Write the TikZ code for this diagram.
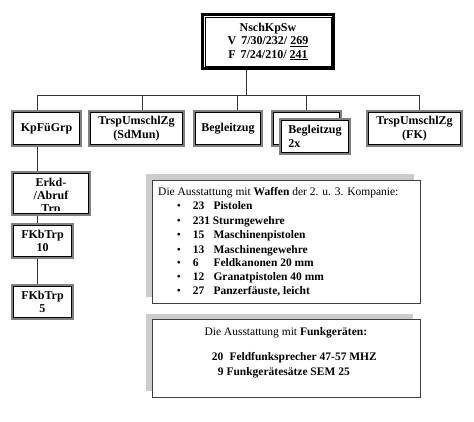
\documentclass[tikz,border=0pt]{standalone}
\usepackage{fontspec}
\setmainfont{Liberation Serif}
\newcommand\innerframe[2]{\draw[innerline] ([shift={(#2,#2)}]#1.north west) rectangle ([shift={(-#2,-#2)}]#1.south east);}
\begin{document}
\begin{tikzpicture}[x=1pt,y=-1pt,
  orgbox/.style={draw=black!50, line width=1.6pt, fill=white, inner sep=0pt,
    font=\fontsize{12}{13.5}\selectfont\bfseries, align=center},
  topbox/.style={draw=black, line width=2.6pt, fill=white, inner sep=0pt,
    font=\fontsize{12}{13.2}\selectfont\bfseries, align=center},
  innerline/.style={draw=black, line width=0.6pt},
  link/.style={draw=black!80, line width=0.6pt},
  listbox/.style={draw=black!75, line width=0.7pt, fill=white, inner sep=0pt, anchor=north west},
  shadowfill/.style={fill=black!20},
  hdr/.style={anchor=base west, inner sep=0pt, font=\fontsize{11.5}{14}\selectfont},
  itemtext/.style={anchor=base west, inner sep=0pt, font=\fontsize{11.5}{14}\selectfont\bfseries},
  bul/.style={anchor=base, inner sep=0pt, font=\fontsize{11.5}{14}\selectfont}
]
\useasboundingbox[fill=white] (0,0) rectangle (474,421);

% connector coordinates
\coordinate (bustop) at (246,95);
\coordinate (busL) at (37.7,95);
\coordinate (bus2) at (142.7,95);
\coordinate (bus3) at (237.5,95);
\coordinate (bus4) at (306.7,95);
\coordinate (busR) at (419,95);

% boxes
\node[topbox, minimum width=131.4, minimum height=54.4] (top) at (268,41.5)
  {NschKpSw\\[0.3pt] V\hspace{5pt}7/30/232/ \underline{269}\\ F\hspace{5pt}7/24/210/ \underline{241}};
\node[orgbox, minimum width=69.4, minimum height=35.4] (kp) at (46.5,128.5) {KpFüGrp};
\node[orgbox, minimum width=95.4, minimum height=35.4] (sdmun) at (136.5,128.5) {TrspUmschlZg\\(SdMun)};
\node[orgbox, minimum width=68.4, minimum height=35.4] (begl) at (228,128.5) {Begleitzug};
\node[orgbox, minimum width=69.4, minimum height=35.4] (beglback) at (306.5,128.5) {};
\node[orgbox, minimum width=95.4, minimum height=35.4] (fk) at (414.5,128.5) {TrspUmschlZg\\(FK)};
\node[orgbox, minimum width=78.4, minimum height=43.4] (erkd) at (51,193.5) {};
\node[orgbox, minimum width=61.4, minimum height=34.4] (fkb10) at (42.5,241) {FKbTrp\\10};
\node[orgbox, minimum width=61.4, minimum height=34.4] (fkb5) at (42.5,302) {FKbTrp\\5};

% connectors
\draw[link] (top.south -| bustop) -- (bustop);
\draw[link] (busL) -- (busR);
\draw[link] (busL) -- (busL |- kp.north);
\draw[link] (bus2) -- (bus2 |- sdmun.north);
\draw[link] (bus3) -- (bus3 |- begl.north);
\draw[link] (bus4) -- (bus4 |- beglback.north);
\draw[link] (busR) -- (busR |- fk.north);
\draw[link] (kp.south -| busL) -- (erkd.north -| busL);
\draw[link] (erkd.south -| busL) -- (fkb10.north -| busL);
\draw[link] (fkb10.south -| busL) -- (fkb5.north -| busL);

% inner frames
\innerframe{top}{3.8}
\foreach \n in {kp,sdmun,begl,beglback,fk,erkd,fkb10,fkb5}{\innerframe{\n}{2.4}}

% front Begleitzug box
\node[orgbox, minimum width=70.4, minimum height=35.4, align=left] (beglfront) at (315,136.5) {Begleitzug\\2x};
\innerframe{beglfront}{2.4}

% Erkd text, clipped
\begin{scope}
  \clip ([shift={(2,2)}]erkd.north west) rectangle ([shift={(-2,-5.6)}]erkd.south east);
  \node[inner sep=0pt, align=center, font=\fontsize{12}{12.7}\selectfont\bfseries] (erkdtext) at (51,196.6) {Erkd-\\/Abruf\\Trp};
\end{scope}

% Waffen box
\fill[shadowfill] (146,174) rectangle (414,297);
\node[listbox, minimum width=268.3, minimum height=122.7] (waffen) at (151.7,180) {};
\node[hdr] (wh) at (158,195.7) {Die Ausstattung mit \textbf{Waffen} der 2. u. 3. Kompanie:};
\foreach \yy/\nn/\xx/\wname [count=\i] in {
  209/23/213.3/Pistolen,
  224/231/212.6/Sturmgewehre,
  238.3/15/213.3/Maschinenpistolen,
  253/13/213.3/Maschinengewehre,
  266.7/6/213.3/Feldkanonen 20 mm,
  280.7/12/213.3/Granatpistolen 40 mm,
  294.7/27/213.3/{Panzerfäuste, leicht}}{
  \node[bul] (wb\i) at (179,\yy) {\textbullet};
  \node[itemtext] (wn\i) at (192.7,\yy) {\nn};
  \node[itemtext] (wt\i) at (\xx,\yy) {\wname};
}

% Funk box
\fill[shadowfill] (146,314) rectangle (413.3,390.7);
\node[listbox, minimum width=268.3, minimum height=78] (funk) at (151.7,319.3) {};
\node[hdr, anchor=base] (fh) at (285.8,335.7) {Die Ausstattung mit \textbf{Funkgeräten:}};
\node[itemtext] (fn1) at (211.7,360.7) {20};
\node[itemtext] (ft1) at (229.3,360.7) {Feldfunksprecher 47-57 MHZ};
\node[itemtext] (fn2) at (217.7,375.7) {9};
\node[itemtext] (ft2) at (226.3,375.7) {Funkgerätesätze SEM 25};
\end{tikzpicture}
\end{document}
